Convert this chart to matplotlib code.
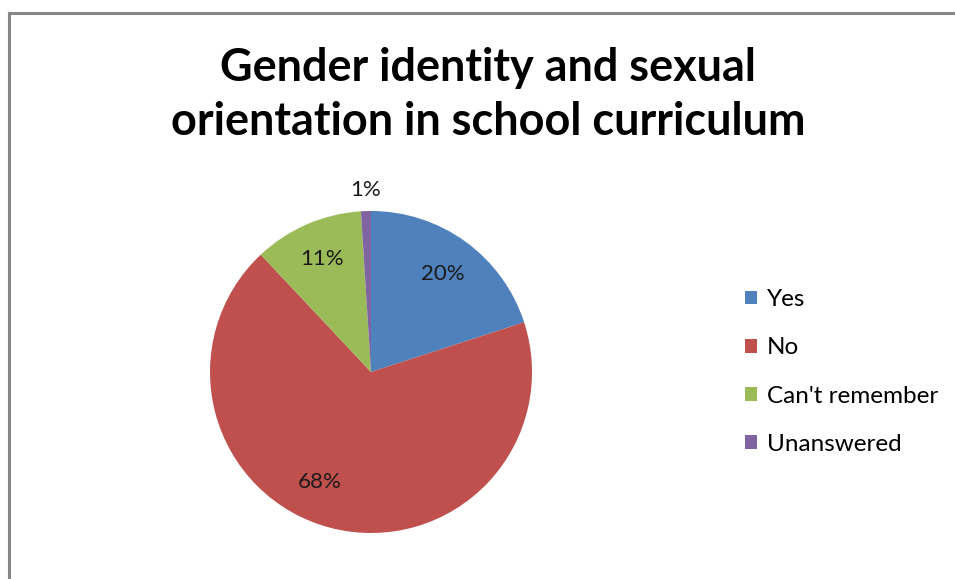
import numpy as np
import matplotlib
matplotlib.use("Agg")
import matplotlib.pyplot as plt
from matplotlib.lines import Line2D
from matplotlib.patches import Patch

plt.rcParams['font.family'] = ['Lato', 'DejaVu Sans']

categories = ["Yes", "No", "Can't remember", "Unanswered"]
values = [20, 68, 11, 1]
pct_labels = ["20%", "68%", "11%", "1%"]
colors = ["#4F81BD", "#C0504D", "#9BBB59", "#8064A2"]
# label placement: radial distance (fraction of radius) and angular nudge (deg)
label_dist = [0.755, 0.755, 0.765, 1.13]
label_shift = [0, -10.5, 0, 0]

W, H = 955, 579
fig = plt.figure(figsize=(W / 100, H / 100), dpi=100)
ax = fig.add_axes([0, 0, 1, 1])

cx, cy, r = 371, H - 372, 161
wedges, _ = ax.pie(values, colors=colors, startangle=90, counterclock=False,
                   center=(cx, cy), radius=r, frame=True,
                   wedgeprops=dict(linewidth=0))
ax.set_xlim(0, W)
ax.set_ylim(0, H)
ax.set_aspect('equal')
ax.axis('off')

# chart frame: left and top edges
frame_col = "#868686"
ax.add_line(Line2D([9, 9], [0, H - 13], color=frame_col, lw=2.2))
ax.add_line(Line2D([9, W], [H - 13, H - 13], color=frame_col, lw=2.2))

for w, lab, d, s in zip(wedges, pct_labels, label_dist, label_shift):
    mid = np.deg2rad((w.theta1 + w.theta2) / 2 + s)
    ax.text(cx + d * r * np.cos(mid), cy + d * r * np.sin(mid), lab,
            ha='center', va='center', fontsize=16, color='#1a1a1a')

ax.text(488, H - 95, "Gender identity and sexual\norientation in school curriculum",
        ha='center', va='center', fontsize=32.4, fontweight='bold',
        linespacing=1.33, color='black')

handles = [Patch(facecolor=c, edgecolor='none') for c in colors]
leg = fig.legend(handles, categories, loc='center left',
                 bbox_to_anchor=(745 / W, 1 - 372 / H), frameon=False,
                 fontsize=17.5, handlelength=0.5, handleheight=0.5,
                 handletextpad=0.4, labelspacing=1.12, borderpad=0,
                 borderaxespad=0)

fig.savefig("out.png", dpi=100)
